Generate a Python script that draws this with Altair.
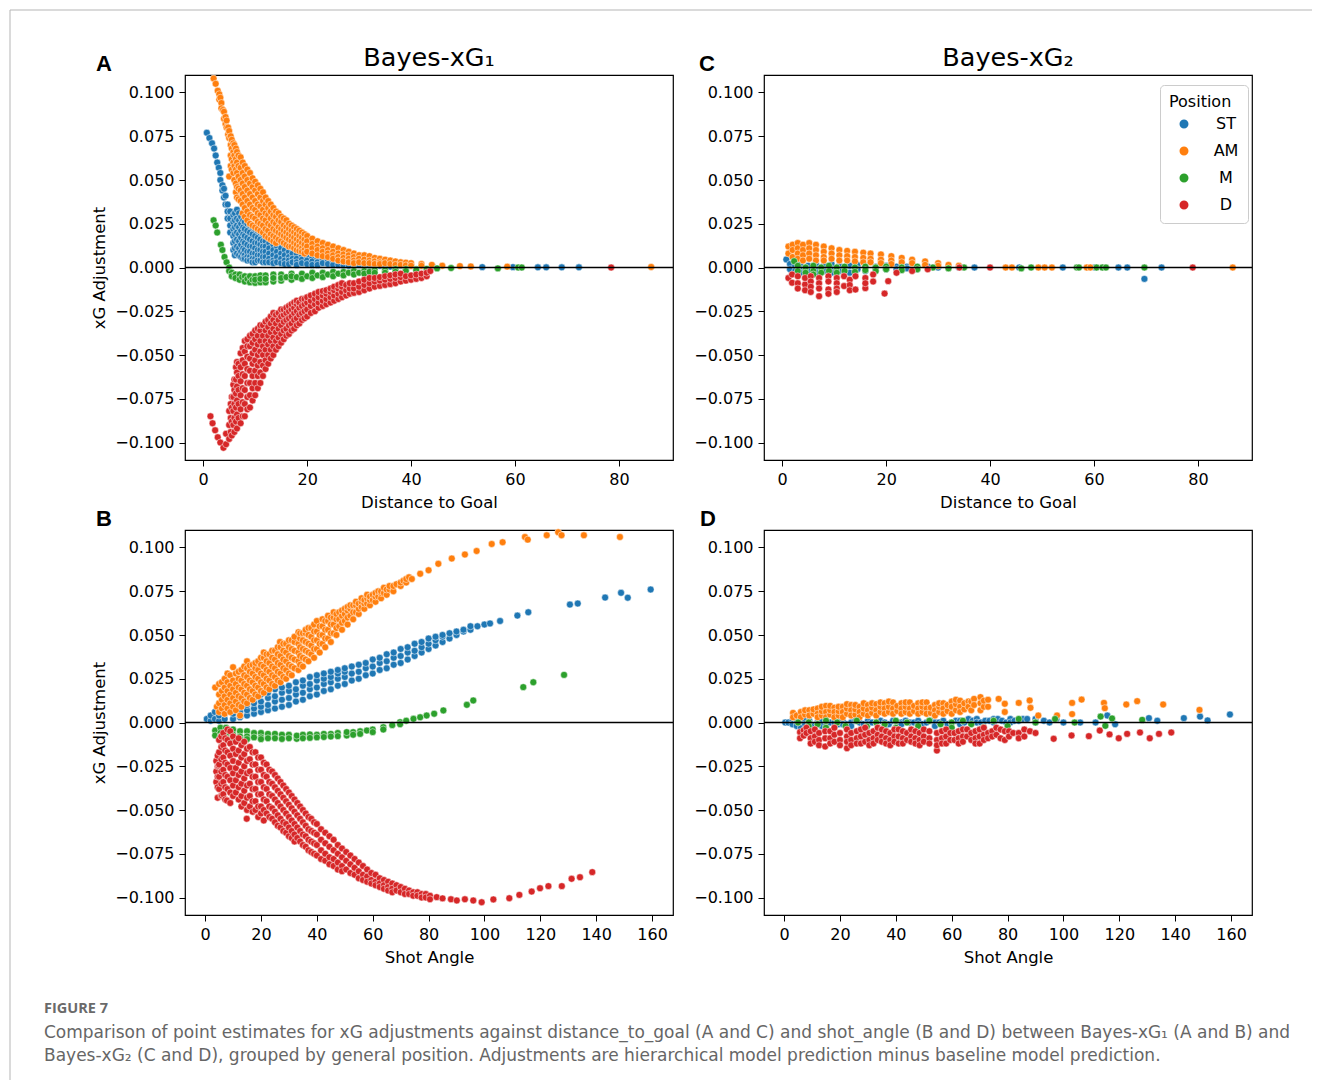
import altair as alt
import pandas as pd

POSITIONS = ["ST", "AM", "M", "D"]
COLORS = ["#1f77b4", "#ff7f0e", "#2ca02c", "#d62728"]
Y_TICKS = [-0.1, -0.075, -0.05, -0.025, 0.0, 0.025, 0.05, 0.075, 0.1]
DIST_TICKS = [0, 20, 40, 60, 80]
ANGLE_TICKS = [0, 20, 40, 60, 80, 100, 120, 140, 160]

# ---------------- Panel A: Bayes-xG1 vs distance_to_goal  (x, [y values])
A_ST = [(0.7, [0.077]), (1.2, [0.074]), (1.7, [0.071]), (2.1, [0.068]), (2.4, [0.064]), (2.7, [0.060]),
        (3.0, [0.057]), (3.3, [0.054, 0.050]), (3.7, [0.047, 0.044]), (4.0, [0.045, 0.040]),
        (4.3, [0.041, 0.036]), (4.7, [0.036, 0.032, 0.028]), (5.2, [0.032, 0.028, 0.024, 0.020]),
        (5.8, [0.030, 0.026, 0.022, 0.018, 0.014, 0.010]),
        (6.1, [0.031, 0.027, 0.023, 0.019, 0.015, 0.011, 0.007]),
        (6.5, [0.033, 0.028, 0.024, 0.020, 0.016, 0.012, 0.008]),
        (6.9, [0.031, 0.027, 0.023, 0.019, 0.015, 0.011, 0.007]),
        (7.3, [0.029, 0.025, 0.021, 0.017, 0.013, 0.009, 0.006]),
        (7.7, [0.027, 0.023, 0.019, 0.015, 0.011, 0.008, 0.005]),
        (8.0, [0.026, 0.022, 0.018, 0.014, 0.010, 0.007, 0.005]),
        (8.5, [0.025, 0.021, 0.017, 0.013, 0.009, 0.006, 0.004]),
        (9.0, [0.024, 0.020, 0.016, 0.012, 0.009, 0.006, 0.004]),
        (9.5, [0.023, 0.019, 0.015, 0.012, 0.008, 0.005, 0.003]),
        (10.0, [0.022, 0.018, 0.014, 0.011, 0.008, 0.005, 0.003]),
        (10.5, [0.021, 0.017, 0.014, 0.010, 0.007, 0.004]),
        (11.0, [0.020, 0.016, 0.013, 0.010, 0.007, 0.004]),
        (11.5, [0.019, 0.015, 0.012, 0.009, 0.006, 0.003]),
        (12.0, [0.018, 0.015, 0.012, 0.009, 0.006, 0.003]),
        (12.7, [0.017, 0.014, 0.011, 0.008, 0.005, 0.003]),
        (13.5, [0.016, 0.013, 0.010, 0.007, 0.004, 0.0025]),
        (14.2, [0.015, 0.012, 0.009, 0.006, 0.003]),
        (15.0, [0.014, 0.011, 0.008, 0.005, 0.0025]), (15.7, [0.013, 0.010, 0.007, 0.004, 0.002]),
        (16.5, [0.012, 0.009, 0.006, 0.004, 0.002]), (17.2, [0.011, 0.008, 0.005, 0.003]),
        (18.0, [0.010, 0.008, 0.005, 0.003, 0.0015]), (19.0, [0.0095, 0.007, 0.0045, 0.0025]),
        (20.0, [0.009, 0.006, 0.004, 0.002]), (21.0, [0.008, 0.0055, 0.0035, 0.0015]),
        (22.0, [0.007, 0.005, 0.003, 0.0015]), (23.0, [0.0065, 0.0045, 0.0025]), (24.0, [0.006, 0.004, 0.002]),
        (25.0, [0.0055, 0.0035, 0.0015]), (26.0, [0.005, 0.003, 0.0015]), (27.0, [0.0045, 0.0025, 0.001]),
        (28.0, [0.004, 0.002, 0.001]), (29.0, [0.0035, 0.002]), (30.0, [0.003, 0.0015]), (31.0, [0.003, 0.0015]),
        (32.0, [0.0025, 0.001]), (33.0, [0.0025, 0.001]), (34.0, [0.002, 0.001]), (35.0, [0.002, 0.001]),
        (36.0, [0.0015, 0.0005]), (37.0, [0.0015]), (38.0, [0.001]), (39.0, [0.001]), (40.0, [0.001]),
        (42.0, [0.0008]), (44.2, [0.0005]), (53.7, [0.0002]), (59.6, [0.0002]), (64.4, [0.0001]),
        (66.0, [0.0001]), (69.0, [0.0001]), (72.3, [0.0001])]
A_AM = [(2.0, [0.108]), (2.4, [0.105]), (2.8, [0.101]), (3.1, [0.099, 0.096]), (3.3, [0.097]),
        (3.5, [0.094, 0.091]), (3.8, [0.090]), (4.0, [0.089, 0.085]), (4.3, [0.086, 0.082]),
        (4.5, [0.084, 0.080]), (4.8, [0.080, 0.076]), (5.0, [0.078, 0.074, 0.052]),
        (5.3, [0.075, 0.070, 0.064, 0.058]), (5.5, [0.073, 0.068, 0.062, 0.056]),
        (5.8, [0.071, 0.066, 0.060, 0.054]), (6.0, [0.070, 0.064, 0.058, 0.050]),
        (6.3, [0.068, 0.062, 0.056, 0.048, 0.043]), (6.5, [0.066, 0.060, 0.054, 0.046, 0.040]),
        (6.8, [0.064, 0.058, 0.052, 0.045, 0.039]), (7.2, [0.063, 0.057, 0.050, 0.044, 0.038]),
        (7.6, [0.060, 0.054, 0.048, 0.042, 0.036, 0.031]),
        (8.0, [0.058, 0.052, 0.046, 0.040, 0.034, 0.029]), (8.5, [0.056, 0.050, 0.044, 0.038, 0.032, 0.027]),
        (9.0, [0.054, 0.048, 0.042, 0.036, 0.030, 0.025]), (9.5, [0.051, 0.046, 0.040, 0.034, 0.029, 0.024]),
        (10.0, [0.049, 0.044, 0.038, 0.033, 0.028, 0.023]), (10.5, [0.047, 0.042, 0.036, 0.031, 0.026, 0.022]),
        (11.0, [0.045, 0.040, 0.035, 0.030, 0.025, 0.021]), (11.5, [0.043, 0.038, 0.033, 0.028, 0.024, 0.020]),
        (12.0, [0.040, 0.036, 0.031, 0.027, 0.022, 0.018]), (12.5, [0.038, 0.034, 0.030, 0.025, 0.021, 0.017]),
        (13.0, [0.036, 0.032, 0.028, 0.024, 0.019, 0.016]), (13.5, [0.034, 0.030, 0.026, 0.022, 0.018, 0.015]),
        (14.0, [0.032, 0.029, 0.025, 0.021, 0.017, 0.014]), (14.5, [0.031, 0.027, 0.023, 0.020, 0.016]),
        (15.0, [0.029, 0.026, 0.022, 0.019, 0.015]), (15.5, [0.028, 0.024, 0.021, 0.018, 0.014]),
        (16.0, [0.027, 0.023, 0.020, 0.017, 0.013]), (16.5, [0.025, 0.022, 0.019, 0.016, 0.012]),
        (17.0, [0.024, 0.021, 0.018, 0.015, 0.012]), (17.5, [0.023, 0.020, 0.017, 0.014, 0.011]),
        (18.0, [0.022, 0.019, 0.016, 0.013, 0.010]), (18.5, [0.021, 0.018, 0.015, 0.012, 0.0095]),
        (19.0, [0.020, 0.017, 0.014, 0.011, 0.009]), (19.5, [0.019, 0.016, 0.013, 0.010, 0.008]),
        (20.0, [0.018, 0.015, 0.012, 0.009]), (21.0, [0.0165, 0.0135, 0.011, 0.008]),
        (22.0, [0.015, 0.012, 0.010, 0.007]), (23.0, [0.014, 0.011, 0.009, 0.0065]),
        (24.0, [0.013, 0.010, 0.008, 0.006]), (25.0, [0.012, 0.009, 0.007, 0.005]),
        (26.0, [0.011, 0.008, 0.006, 0.004]), (27.0, [0.010, 0.0075, 0.0055, 0.0035]),
        (28.0, [0.009, 0.007, 0.005, 0.003]), (29.0, [0.008, 0.006, 0.004, 0.0025]),
        (30.0, [0.007, 0.005, 0.003]), (31.0, [0.007, 0.0045, 0.0025]), (32.0, [0.0065, 0.004, 0.0025]),
        (33.0, [0.0055, 0.0035, 0.002]), (34.0, [0.005, 0.003, 0.002]), (35.0, [0.0045, 0.0025]),
        (36.0, [0.004, 0.002]), (37.0, [0.0035, 0.0015]), (38.0, [0.003, 0.0015]), (39.0, [0.0028, 0.0012]),
        (40.0, [0.0025, 0.001]), (42.0, [0.002, 0.001]), (44.0, [0.0015]), (46.0, [0.001]), (49.4, [0.0008]),
        (51.5, [0.0006]), (58.5, [0.0005]), (86.2, [0.0003])]
A_M = [(2.0, [0.027]), (2.4, [0.024]), (2.7, [0.020]), (3.4, [0.013]), (3.7, [0.010]), (4.1, [0.006]),
       (4.5, [0.003]), (5.0, [0.000, -0.002]), (5.5, [-0.003, -0.005]), (6.2, [-0.004, -0.006]),
       (7.0, [-0.004, -0.007]), (7.5, [-0.0055]), (8.0, [-0.005, -0.008]), (8.5, [-0.0065]),
       (9.0, [-0.005, -0.0085]), (9.5, [-0.007]), (10.0, [-0.005, -0.0088, -0.007]),
       (11.0, [-0.0045, -0.0085, -0.0065]), (12.0, [-0.0045, -0.0085, -0.0065]),
       (13.5, [-0.004, -0.008, -0.006]), (15.0, [-0.004, -0.0075, -0.006]), (16.0, [-0.0055]),
       (17.0, [-0.0035, -0.007, -0.005]), (18.0, [-0.0055]), (19.0, [-0.0035, -0.0065]), (20.0, [-0.005]),
       (21.0, [-0.003, -0.006]), (22.0, [-0.0045]), (23.0, [-0.003, -0.0055]), (24.0, [-0.004]),
       (25.0, [-0.0025, -0.005]), (26.0, [-0.0035]), (27.0, [-0.0025, -0.0045]), (28.0, [-0.003]),
       (29.0, [-0.002, -0.004]), (30.0, [-0.003]), (31.0, [-0.002, -0.0035]), (32.0, [-0.0025]),
       (33.0, [-0.0015, -0.003]), (35.0, [-0.0015, -0.003]), (37.0, [-0.001, -0.0025]), (39.0, [-0.001, -0.002]),
       (41.0, [-0.001, -0.0015]), (43.0, [-0.0008]), (45.0, [-0.0005]), (47.7, [-0.0003]), (56.7, [-0.0005]),
       (60.6, [0.0]), (61.3, [0.0])]
A_D = [(1.4, [-0.085]), (1.8, [-0.089]), (2.3, [-0.093]), (2.8, [-0.097]), (3.3, [-0.100]), (3.9, [-0.103]),
       (4.4, [-0.101, -0.095]), (5.0, [-0.098, -0.090, -0.082]), (5.3, [-0.094, -0.086, -0.078]),
       (5.5, [-0.096, -0.088, -0.080, -0.074]), (5.8, [-0.090, -0.082, -0.074, -0.067]),
       (6.0, [-0.094, -0.086, -0.078, -0.070, -0.064]), (6.3, [-0.088, -0.080, -0.072, -0.064, -0.057]),
       (6.5, [-0.092, -0.084, -0.076, -0.068, -0.060, -0.054]),
       (6.8, [-0.086, -0.078, -0.070, -0.062, -0.055]),
       (7.2, [-0.089, -0.081, -0.073, -0.065, -0.057, -0.049]),
       (7.6, [-0.085, -0.077, -0.069, -0.061, -0.053, -0.046]),
       (8.0, [-0.085, -0.078, -0.070, -0.062, -0.055, -0.048, -0.042]),
       (8.5, [-0.081, -0.074, -0.066, -0.058, -0.051, -0.045, -0.041]),
       (9.0, [-0.080, -0.073, -0.066, -0.059, -0.052, -0.045, -0.039]),
       (9.5, [-0.076, -0.069, -0.062, -0.055, -0.049, -0.043, -0.038]),
       (10.0, [-0.073, -0.066, -0.059, -0.053, -0.047, -0.041, -0.036]),
       (10.5, [-0.069, -0.062, -0.056, -0.050, -0.044, -0.039, -0.035]),
       (11.0, [-0.066, -0.060, -0.054, -0.048, -0.042, -0.036, -0.033]),
       (11.5, [-0.062, -0.056, -0.050, -0.045, -0.039, -0.033]),
       (12.0, [-0.058, -0.053, -0.047, -0.042, -0.036, -0.031]),
       (12.5, [-0.055, -0.050, -0.044, -0.039, -0.034, -0.030]),
       (13.0, [-0.052, -0.047, -0.042, -0.037, -0.032, -0.028]),
       (13.5, [-0.050, -0.045, -0.040, -0.035, -0.030, -0.026]),
       (14.0, [-0.047, -0.042, -0.037, -0.032, -0.027]), (14.5, [-0.045, -0.040, -0.035, -0.030, -0.026]),
       (15.0, [-0.043, -0.038, -0.033, -0.028, -0.024]), (15.5, [-0.041, -0.036, -0.031, -0.027, -0.024]),
       (16.0, [-0.039, -0.035, -0.030, -0.026, -0.023]), (16.5, [-0.038, -0.033, -0.029, -0.025, -0.022]),
       (17.0, [-0.036, -0.032, -0.028, -0.024, -0.021]), (17.5, [-0.035, -0.030, -0.026, -0.023, -0.020]),
       (18.0, [-0.033, -0.029, -0.025, -0.021, -0.019]), (18.5, [-0.032, -0.027, -0.023, -0.020]),
       (19.0, [-0.030, -0.026, -0.022, -0.018]), (19.5, [-0.029, -0.025, -0.021, -0.018]),
       (20.0, [-0.028, -0.024, -0.020, -0.017]), (20.7, [-0.026, -0.022, -0.019, -0.016]),
       (21.5, [-0.025, -0.021, -0.018, -0.015]), (22.2, [-0.023, -0.020, -0.017, -0.014]),
       (23.0, [-0.022, -0.019, -0.016, -0.0135]), (23.7, [-0.021, -0.018, -0.015, -0.013]),
       (24.5, [-0.020, -0.017, -0.014, -0.012]), (25.2, [-0.019, -0.016, -0.013, -0.011]),
       (26.0, [-0.018, -0.015, -0.012, -0.010]), (26.7, [-0.017, -0.014, -0.011, -0.009]),
       (27.5, [-0.016, -0.013, -0.010]), (28.2, [-0.015, -0.012, -0.009]), (29.0, [-0.0145, -0.012, -0.009]),
       (30.0, [-0.014, -0.011, -0.008]), (31.0, [-0.013, -0.010, -0.007]), (32.0, [-0.012, -0.009, -0.006]),
       (33.0, [-0.011, -0.008, -0.006]), (34.0, [-0.0105, -0.0075, -0.0055]), (35.0, [-0.010, -0.007, -0.005]),
       (36.0, [-0.0095, -0.0065, -0.0045]), (37.0, [-0.009, -0.006, -0.004]), (38.0, [-0.008, -0.0055, -0.0035]),
       (39.0, [-0.0075, -0.005]), (40.0, [-0.007, -0.0045]), (41.0, [-0.0065, -0.004]), (42.0, [-0.006, -0.0035]),
       (43.0, [-0.005, -0.003]), (43.7, [-0.002]), (78.5, [0.0])]

# ---------------- Panel B: Bayes-xG1 vs shot_angle
B_ST = [(0.6, [0.002]), (2.0, [0.001, 0.004]), (3.5, [0.002, 0.006]), (5.0, [0.001, 0.004, 0.007]),
        (7.0, [0.002, 0.005, 0.008]), (10.0, [0.002, 0.005, 0.007, 0.010]), (12.5, [0.003, 0.006, 0.009, 0.012]),
        (15.0, [0.004, 0.007, 0.010, 0.013]), (17.5, [0.005, 0.008, 0.011, 0.014]),
        (20.0, [0.006, 0.009, 0.012, 0.016]), (22.5, [0.007, 0.010, 0.014, 0.017]),
        (25.0, [0.008, 0.012, 0.015, 0.019]), (27.5, [0.009, 0.013, 0.017, 0.020]),
        (30.0, [0.010, 0.014, 0.018, 0.021]), (32.5, [0.012, 0.016, 0.019, 0.023]),
        (35.0, [0.013, 0.017, 0.021, 0.024]), (37.5, [0.015, 0.019, 0.022, 0.026]),
        (40.0, [0.016, 0.020, 0.024, 0.027]), (42.5, [0.018, 0.022, 0.025, 0.028]),
        (45.0, [0.019, 0.023, 0.026, 0.029]), (47.5, [0.021, 0.025, 0.028, 0.030]),
        (50.0, [0.022, 0.026, 0.029, 0.031]), (52.5, [0.024, 0.028, 0.032]), (55.0, [0.025, 0.029, 0.033]),
        (57.5, [0.027, 0.031, 0.034]), (60.0, [0.028, 0.032, 0.036]), (62.5, [0.030, 0.034, 0.037]),
        (65.0, [0.031, 0.035, 0.039]), (67.5, [0.033, 0.037, 0.040]), (70.0, [0.034, 0.038, 0.042]),
        (72.5, [0.036, 0.040, 0.043]), (75.0, [0.038, 0.041, 0.045]), (77.5, [0.040, 0.043, 0.046]),
        (80.0, [0.042, 0.045, 0.048]), (82.5, [0.044, 0.047, 0.049]), (85.0, [0.046, 0.049, 0.050]),
        (87.5, [0.048, 0.051]), (90.0, [0.050, 0.052]), (92.5, [0.052, 0.053]), (95.0, [0.053, 0.055]),
        (97.5, [0.055]), (100.0, [0.056]), (102.0, [0.0566]), (105.6, [0.058]), (111.8, [0.0611]),
        (115.7, [0.063]), (130.6, [0.0674]), (133.4, [0.068]), (143.2, [0.0714]), (148.9, [0.0741]),
        (151.3, [0.0713]), (159.5, [0.076])]
B_AM = [(3.6, [0.020]), (4.2, [0.009]), (5.0, [0.006, 0.011, 0.016, 0.022]), (6.0, [0.008, 0.013, 0.018, 0.023]),
        (7.0, [0.005, 0.010, 0.015, 0.020, 0.025]), (8.0, [0.008, 0.013, 0.018, 0.023, 0.028]),
        (9.0, [0.006, 0.011, 0.016, 0.021, 0.027]), (10.0, [0.009, 0.014, 0.019, 0.024, 0.0316]),
        (11.0, [0.007, 0.012, 0.017, 0.022, 0.028]), (12.0, [0.010, 0.015, 0.020, 0.025, 0.029]),
        (12.5, [0.004]), (13.0, [0.009, 0.014, 0.019, 0.024, 0.030]), (14.0, [0.012, 0.017, 0.022, 0.027, 0.032]),
        (15.0, [0.011, 0.016, 0.021, 0.026, 0.031, 0.035]), (16.0, [0.014, 0.019, 0.024, 0.029, 0.0326]),
        (17.0, [0.013, 0.018, 0.023, 0.028, 0.033]), (18.0, [0.016, 0.021, 0.026, 0.031, 0.034]),
        (19.0, [0.015, 0.020, 0.025, 0.030, 0.035]), (20.0, [0.018, 0.023, 0.028, 0.033, 0.037]),
        (21.0, [0.017, 0.022, 0.027, 0.032, 0.037, 0.040]), (22.0, [0.020, 0.025, 0.030, 0.035, 0.039]),
        (23.0, [0.019, 0.024, 0.029, 0.034, 0.039]), (24.0, [0.022, 0.027, 0.032, 0.037, 0.041]),
        (25.0, [0.021, 0.026, 0.031, 0.036, 0.041]), (26.0, [0.024, 0.029, 0.034, 0.039, 0.043]),
        (26.8, [0.046]), (27.0, [0.023, 0.028, 0.033, 0.038, 0.043]), (28.0, [0.026, 0.031, 0.036, 0.041, 0.045]),
        (29.0, [0.025, 0.030, 0.035, 0.040, 0.045]), (30.0, [0.028, 0.033, 0.038, 0.043, 0.047]),
        (31.0, [0.027, 0.032, 0.037, 0.042, 0.047]), (32.0, [0.031, 0.036, 0.041, 0.046, 0.049]),
        (33.4, [0.0516, 0.030, 0.035, 0.040, 0.045]), (34.0, [0.033, 0.038, 0.043, 0.048, 0.051]),
        (35.0, [0.032, 0.037, 0.042, 0.047, 0.051]), (36.0, [0.036, 0.041, 0.046, 0.051, 0.053]),
        (37.0, [0.035, 0.040, 0.045, 0.050, 0.054]), (38.0, [0.039, 0.044, 0.049, 0.054]),
        (39.0, [0.037, 0.042, 0.047, 0.052, 0.056]), (40.0, [0.042, 0.047, 0.052, 0.058]),
        (41.0, [0.040, 0.045, 0.050, 0.055]), (42.0, [0.045, 0.050, 0.055, 0.059]),
        (43.0, [0.043, 0.048, 0.053, 0.058]), (44.0, [0.048, 0.053, 0.058, 0.061]),
        (45.0, [0.046, 0.051, 0.056, 0.060]), (46.0, [0.051, 0.056, 0.060, 0.063]),
        (47.0, [0.050, 0.054, 0.059, 0.062]), (48.0, [0.055, 0.059, 0.063]), (49.0, [0.053, 0.057, 0.061, 0.064]),
        (50.0, [0.058, 0.062, 0.065]), (51.0, [0.056, 0.060, 0.064, 0.066]), (52.0, [0.061, 0.065, 0.067]),
        (53.0, [0.059, 0.063, 0.067]), (54.0, [0.063, 0.067, 0.069]), (55.0, [0.062, 0.065, 0.068]),
        (56.0, [0.066, 0.069, 0.071]), (57.0, [0.065, 0.068, 0.070]), (58.0, [0.068, 0.071, 0.073]),
        (59.0, [0.067, 0.070, 0.072]), (60.0, [0.070, 0.073]), (61.0, [0.069, 0.072, 0.074]),
        (62.0, [0.072, 0.075]), (63.0, [0.071, 0.074, 0.075]), (64.0, [0.074, 0.077]), (65.0, [0.073, 0.076]),
        (66.0, [0.076, 0.078]), (67.4, [0.075, 0.078]), (68.5, [0.079]), (70.0, [0.078, 0.080]), (71.0, [0.081]),
        (72.0, [0.080, 0.082]), (73.0, [0.083]), (74.0, [0.082]), (77.0, [0.085]), (80.0, [0.087]),
        (83.5, [0.0907]), (88.3, [0.0937]), (93.0, [0.096]), (97.2, [0.098]), (102.6, [0.102]), (106.5, [0.103]),
        (114.5, [0.106]), (115.5, [0.1045]), (122.3, [0.107]), (126.4, [0.1087]), (127.6, [0.107]),
        (135.6, [0.107]), (148.5, [0.106])]
B_M = [(3.6, [-0.0046, -0.0074]), (5.5, [-0.003, -0.006, -0.008]), (7.5, [-0.003, -0.0074, -0.009]),
       (10.0, [-0.004, -0.007, -0.009]), (12.5, [-0.005, -0.008, -0.0095]), (15.0, [-0.005, -0.008, -0.0095]),
       (17.5, [-0.006, -0.0085]), (20.0, [-0.006, -0.0085, -0.0095]), (22.5, [-0.0065, -0.009]),
       (25.0, [-0.0065, -0.009]), (27.5, [-0.007, -0.0094]), (30.0, [-0.007, -0.009]),
       (32.8, [-0.0093, -0.0075]), (35.0, [-0.007, -0.009]), (37.5, [-0.0068, -0.0088]),
       (40.0, [-0.007, -0.0085]), (42.5, [-0.0065, -0.0083]), (45.0, [-0.0065, -0.008]),
       (47.5, [-0.006, -0.0078]), (50.7, [-0.0074, -0.0055]), (53.0, [-0.0055, -0.007]),
       (55.5, [-0.005, -0.0065]), (57.9, [-0.0046]), (60.0, [-0.004, -0.0055]), (63.8, [-0.0027, -0.004]),
       (67.0, [-0.0015]), (69.8, [0.0002, -0.001]), (72.0, [0.001]), (74.6, [0.0021]), (77.0, [0.003]),
       (79.3, [0.004]), (82.0, [0.005]), (85.3, [0.0069]), (93.7, [0.0101]), (96.0, [0.0126]),
       (113.9, [0.0202]), (117.5, [0.023]), (128.5, [0.0272])]
B_D = [(4.0, [-0.022, -0.028, -0.034]), (4.5, [-0.019, -0.025, -0.031, -0.037, -0.043]), (4.8, [-0.0246]),
       (5.0, [-0.010, -0.017, -0.024, -0.031, -0.038]), (5.8, [-0.008, -0.014, -0.021, -0.028, -0.035, -0.042]),
       (6.0, [-0.0417]), (6.5, [-0.006, -0.013, -0.020, -0.027, -0.034, -0.041]),
       (7.2, [-0.009, -0.016, -0.023, -0.030, -0.037, -0.044]), (7.8, [-0.0446]),
       (8.0, [-0.004, -0.010, -0.017, -0.024, -0.031, -0.038]),
       (9.0, [-0.005, -0.012, -0.019, -0.026, -0.033, -0.040, -0.046]),
       (10.0, [-0.008, -0.015, -0.022, -0.029, -0.036, -0.042]), (11.0, [-0.011, -0.018, -0.026, -0.033, -0.040]),
       (12.0, [-0.009, -0.016, -0.023, -0.030, -0.037, -0.044]),
       (13.0, [-0.013, -0.020, -0.028, -0.035, -0.042, -0.048]),
       (14.0, [-0.011, -0.018, -0.025, -0.032, -0.039, -0.046]), (14.9, [-0.055]),
       (15.0, [-0.015, -0.022, -0.029, -0.036, -0.043, -0.050]),
       (16.0, [-0.014, -0.021, -0.028, -0.035, -0.042, -0.048]),
       (17.0, [-0.017, -0.024, -0.031, -0.038, -0.045, -0.051]),
       (18.0, [-0.017, -0.024, -0.031, -0.038, -0.045, -0.050]),
       (19.0, [-0.020, -0.027, -0.034, -0.041, -0.048, -0.054]),
       (20.0, [-0.020, -0.027, -0.034, -0.041, -0.048, -0.052]),
       (21.0, [-0.023, -0.030, -0.037, -0.044, -0.050, -0.056]),
       (22.0, [-0.024, -0.031, -0.038, -0.045, -0.052]), (23.0, [-0.027, -0.034, -0.041, -0.048, -0.054]),
       (24.0, [-0.028, -0.035, -0.042, -0.049, -0.055]), (25.0, [-0.030, -0.037, -0.044, -0.051, -0.057]),
       (26.0, [-0.032, -0.039, -0.046, -0.053, -0.059]), (27.0, [-0.034, -0.041, -0.048, -0.055, -0.060]),
       (28.0, [-0.036, -0.043, -0.050, -0.057, -0.062]), (29.0, [-0.038, -0.045, -0.052, -0.058, -0.063]),
       (30.0, [-0.040, -0.047, -0.054, -0.060, -0.065]), (31.0, [-0.042, -0.049, -0.056, -0.062, -0.066]),
       (32.0, [-0.044, -0.051, -0.058, -0.064, -0.068]), (33.0, [-0.046, -0.053, -0.060, -0.066]),
       (34.0, [-0.048, -0.055, -0.062, -0.068]), (35.0, [-0.050, -0.057, -0.064, -0.070]),
       (36.0, [-0.052, -0.059, -0.065, -0.071]), (37.0, [-0.054, -0.061, -0.067, -0.073]),
       (38.0, [-0.055, -0.062, -0.068, -0.074]), (39.0, [-0.057, -0.063, -0.069, -0.075]),
       (40.0, [-0.058, -0.064, -0.070, -0.076]), (41.5, [-0.061, -0.067, -0.073, -0.078]),
       (43.0, [-0.063, -0.069, -0.075, -0.079]), (44.5, [-0.065, -0.071, -0.077, -0.081]),
       (46.0, [-0.067, -0.073, -0.078, -0.082]), (47.5, [-0.070, -0.075, -0.080, -0.084]),
       (49.0, [-0.072, -0.077, -0.082, -0.085]), (50.5, [-0.074, -0.079, -0.084]),
       (52.0, [-0.076, -0.081, -0.086]), (53.5, [-0.078, -0.083, -0.087]), (55.0, [-0.080, -0.085, -0.089]),
       (56.5, [-0.082, -0.087, -0.090]), (58.0, [-0.084, -0.088, -0.091]), (59.5, [-0.086, -0.090, -0.092]),
       (61.0, [-0.087, -0.091, -0.093]), (62.5, [-0.089, -0.092, -0.094]), (64.0, [-0.090, -0.093, -0.095]),
       (65.5, [-0.091, -0.094, -0.096]), (67.0, [-0.092, -0.095, -0.097]), (68.5, [-0.093, -0.096]),
       (70.0, [-0.094, -0.097]), (71.5, [-0.095, -0.098]), (73.0, [-0.096, -0.098]), (74.5, [-0.097, -0.099]),
       (76.0, [-0.097, -0.099]), (77.5, [-0.098, -0.100]), (79.0, [-0.098, -0.100]), (80.5, [-0.099, -0.101]),
       (82.9, [-0.0998]), (85.0, [-0.1005]), (88.0, [-0.101]), (90.1, [-0.1017]), (93.0, [-0.101]),
       (96.0, [-0.1017]), (99.0, [-0.1027]), (103.2, [-0.1011]), (108.9, [-0.1004]), (112.5, [-0.0985]),
       (116.9, [-0.0966]), (119.9, [-0.0947]), (122.9, [-0.0935]), (127.7, [-0.0935]), (131.2, [-0.0893]),
       (134.2, [-0.0884]), (138.6, [-0.0855])]

# ---------------- Panel C: Bayes-xG2 vs distance_to_goal
C_ST = [(0.8, [0.0046]), (1.5, [0.002, -0.001]), (2.5, [0.001, -0.002]), (3.5, [0.002, -0.001, -0.003]),
        (5.0, [0.001, -0.002]), (6.5, [0.002, -0.001, -0.003]), (8.0, [0.001, -0.002]),
        (9.5, [0.002, -0.001, -0.003]), (11.0, [0.001, -0.002]), (13.0, [0.001, -0.003]),
        (14.5, [0.0015, -0.001]), (16.0, [0.001, -0.002]), (18.0, [0.0005, -0.0015]), (20.0, [0.001, -0.001]),
        (22.0, [0.0005, -0.001]), (24.0, [0.0005, -0.0005]), (26.0, [0.0, -0.001]), (28.0, [0.0005]),
        (30.0, [0.0]), (32.0, [0.0]), (34.0, [0.0]), (37.0, [0.0]), (45.6, [0.0]), (54.0, [0.0]),
        (60.2, [0.0]), (64.7, [0.0]), (66.4, [0.0]), (69.7, [-0.0065]), (73.0, [0.0])]
C_AM = [(1.2, [0.012, 0.008]), (2.0, [0.013, 0.010, 0.006]), (3.0, [0.014, 0.011, 0.008, 0.005]),
        (4.0, [0.013, 0.010, 0.007, 0.004]), (5.2, [0.014, 0.011, 0.008, 0.005]),
        (6.5, [0.013, 0.010, 0.007, 0.004]), (8.0, [0.012, 0.009, 0.006, 0.004]), (9.5, [0.011, 0.008, 0.005]),
        (11.0, [0.010, 0.007, 0.004]), (12.5, [0.0095, 0.0065, 0.004]), (14.0, [0.009, 0.006, 0.0035]),
        (15.6, [0.0085, 0.0055, 0.003]), (17.0, [0.008, 0.005, 0.003]), (19.0, [0.0075, 0.0045, 0.0025]),
        (21.0, [0.0065, 0.004, 0.002]), (23.0, [0.0055, 0.003]), (25.0, [0.0045, 0.0025]),
        (27.5, [0.0035, 0.0015]), (30.0, [0.0025, 0.001]), (32.0, [0.0015]), (34.0, [0.001]), (43.0, [0.0]),
        (44.2, [0.0]), (49.3, [0.0]), (50.5, [0.0]), (51.9, [0.0]), (58.6, [0.0]), (59.3, [0.0]), (86.7, [0.0])]
C_M = [(2.3, [0.0036]), (3.0, [0.001, -0.002]), (4.5, [0.0, -0.003]), (6.0, [0.001, -0.002, -0.004]),
       (7.5, [0.0, -0.003]), (9.0, [0.001, -0.002]), (10.5, [0.0, -0.003]), (12.0, [0.0005, -0.002]),
       (14.0, [0.0, -0.0025]), (16.0, [0.0005, -0.0015]), (18.0, [0.0, -0.002]), (20.0, [0.0005, -0.001]),
       (23.0, [0.0, -0.0015]), (26.0, [0.0005, -0.001]), (29.0, [0.0]), (32.0, [-0.0005]), (35.0, [0.0]),
       (46.0, [-0.0005]), (47.9, [0.0]), (56.7, [0.0]), (57.1, [0.0]), (60.5, [0.0]), (61.6, [0.0]),
       (62.3, [0.0]), (69.7, [0.0])]
C_D = [(1.2, [-0.006]), (1.9, [-0.0087, -0.004]), (3.0, [-0.005, -0.009, -0.012]),
       (4.4, [-0.0097, -0.006, -0.013]), (5.5, [-0.005, -0.008, -0.011, -0.014]),
       (7.1, [-0.0164, -0.006, -0.009, -0.012]), (8.9, [-0.0125, -0.005, -0.008, -0.015]),
       (10.5, [-0.006, -0.009, -0.012, -0.014]), (11.9, [-0.0106, -0.005]), (13.0, [-0.007, -0.010, -0.013]),
       (14.1, [-0.0126, -0.005]), (16.0, [-0.0118, -0.006, -0.009]), (17.5, [-0.004, -0.008]),
       (19.7, [-0.0149]), (20.4, [-0.0078]), (22.0, [-0.003]), (25.0, [-0.002]), (28.0, [-0.001]),
       (34.1, [0.0]), (40.0, [0.0]), (79.0, [0.0])]

# ---------------- Panel D: Bayes-xG2 vs shot_angle
D_ST = [(0.4, [0.0]), (1.5, [0.0]), (3.0, [0.001, -0.001]), (4.5, [0.0, -0.002]), (6.0, [0.0, -0.003]),
        (7.5, [0.001, -0.001]), (9.0, [0.001, -0.002]), (10.5, [-0.002]), (12.0, [0.0, -0.001]),
        (13.5, [0.001, -0.002]), (15.0, [0.001, -0.002]), (16.5, [0.0]), (18.0, [0.0]), (19.5, [0.001, -0.001]),
        (21.0, [0.001, -0.001]), (22.5, [-0.001]), (24.0, [0.0, -0.002]), (25.5, [0.001]), (27.0, [0.0]),
        (28.5, [-0.001]), (30.0, [0.001, -0.001]), (31.5, [0.0]), (33.0, [0.0]), (34.5, [0.001]),
        (36.0, [0.0, -0.002]), (37.5, [-0.001]), (39.0, [0.001]), (40.5, [0.0]), (42.0, [0.0, -0.001]),
        (43.5, [0.001]), (45.0, [0.0]), (46.5, [0.0]), (48.0, [0.001, -0.001]), (49.5, [-0.001]), (51.0, [0.0]),
        (52.5, [0.001]), (54.0, [0.0, -0.002]), (55.5, [0.0]), (57.0, [0.001]), (58.5, [-0.001]), (60.0, [0.0]),
        (61.5, [0.001]), (63.0, [0.001, -0.001]), (64.5, [0.0]), (66.0, [0.002]), (67.5, [0.001]),
        (69.0, [0.002, 0.0]), (70.5, [0.0]), (72.0, [0.001]), (73.5, [0.001]), (75.0, [0.002, 0.0]),
        (76.5, [0.002]), (78.0, [0.001]), (79.5, [0.0]), (81.0, [0.002, 0.0]), (82.5, [0.001]), (84.0, [0.001]),
        (85.5, [0.002]), (87.0, [0.002]), (90.0, [0.002, 0.0]), (93.0, [0.001]), (95.0, [0.0]), (97.5, [0.002]),
        (100.0, [0.0]), (106.0, [0.0]), (111.5, [0.0]), (115.7, [0.004]), (118.5, [-0.001]), (130.6, [0.0025]),
        (133.6, [0.001]), (143.1, [0.0025]), (148.9, [0.0034]), (151.6, [0.0012]), (159.6, [0.0046])]
D_AM = [(3.2, [0.0055, 0.003]), (4.5, [0.004]), (6.0, [0.006, 0.003]), (7.5, [0.0045, 0.007]),
        (9.0, [0.007, 0.004]), (10.5, [0.005, 0.0075]), (12.0, [0.008, 0.005, 0.003]),
        (13.5, [0.004, 0.0065, 0.009]), (15.0, [0.0095, 0.006, 0.003]), (16.5, [0.0045, 0.007, 0.0095]),
        (18.0, [0.0085, 0.006, 0.003]), (19.5, [0.004, 0.0065, 0.009]), (21.0, [0.009, 0.006, 0.003]),
        (22.5, [0.005, 0.008, 0.0105]), (24.0, [0.010, 0.007, 0.004]), (25.5, [0.0045, 0.0075, 0.010]),
        (27.0, [0.009, 0.006, 0.003]), (28.5, [0.005, 0.008, 0.011]), (30.0, [0.010, 0.007, 0.004]),
        (31.5, [0.0055, 0.0085, 0.011]), (33.0, [0.0105, 0.007, 0.004]), (34.5, [0.006, 0.009, 0.0115]),
        (36.0, [0.011, 0.008, 0.005]), (37.5, [0.006, 0.009, 0.012]), (39.0, [0.0115, 0.008, 0.005]),
        (40.5, [0.0065, 0.0095]), (42.0, [0.011, 0.008, 0.005]), (43.5, [0.006, 0.009, 0.0115]),
        (45.0, [0.0115, 0.008, 0.005]), (46.5, [0.0065, 0.0095]), (48.0, [0.011, 0.008, 0.005]),
        (49.5, [0.006, 0.009, 0.0115]), (51.0, [0.0115, 0.008, 0.005]), (52.5, [0.0055, 0.0085]),
        (54.0, [0.010, 0.007, 0.004]), (55.5, [0.006, 0.009, 0.011]), (57.0, [0.011, 0.008, 0.005]),
        (58.5, [0.0065, 0.010]), (60.0, [0.012, 0.009, 0.005]), (61.5, [0.007, 0.0105, 0.013]),
        (63.0, [0.0125, 0.009, 0.006]), (64.5, [0.0075, 0.011]), (66.0, [0.012, 0.009]), (67.0, [0.007, 0.012]),
        (68.0, [0.0135, 0.010]), (70.3, [0.0145, 0.011, 0.007]), (71.5, [0.009, 0.0125]), (73.0, [0.013, 0.009]),
        (76.8, [0.0135]), (79.0, [0.0107, 0.006]), (84.0, [0.0112]), (87.9, [0.0126]), (88.2, [0.0084]),
        (91.0, [0.004]), (97.7, [0.004]), (103.1, [0.0112, 0.0048]), (106.5, [0.0131]), (114.5, [0.0112]),
        (114.8, [0.0082]), (122.5, [0.0103]), (126.4, [0.0122]), (135.7, [0.0103]), (148.7, [0.0072])]
D_M = [(5.0, [0.0]), (8.8, [0.0, -0.002]), (12.0, [-0.001]), (15.0, [0.001, -0.003]), (19.0, [0.0]),
       (22.0, [-0.002]), (26.0, [0.001]), (29.6, [-0.0023]), (33.0, [0.0]), (36.0, [-0.001]),
       (40.0, [0.001, -0.003]), (44.0, [0.0]), (48.0, [-0.002]), (52.0, [0.001]), (56.0, [-0.001]),
       (60.0, [0.0, -0.003]), (64.0, [0.001]), (67.0, [-0.001]), (71.4, [-0.0027]), (75.0, [0.001]),
       (80.0, [-0.002]), (84.0, [0.002]), (90.0, [0.0]), (97.0, [0.002]), (104.0, [0.0]), (113.3, [0.0034]),
       (115.0, [-0.0019]), (117.4, [0.0023]), (128.2, [0.0015])]
D_D = [(5.7, [-0.0055, -0.009]), (7.0, [-0.0045, -0.0075]), (8.0, [-0.003, -0.006]),
       (9.5, [-0.005, -0.009, -0.012]), (11.0, [-0.004, -0.008, -0.011]), (12.5, [-0.006, -0.010, -0.013]),
       (14.7, [-0.0137, -0.005, -0.009]), (16.5, [-0.005, -0.009, -0.012]), (18.0, [-0.003, -0.007, -0.011]),
       (20.0, [-0.006, -0.010, -0.013]), (22.5, [-0.0147, -0.004, -0.008, -0.011]),
       (24.0, [-0.006, -0.010, -0.013]), (26.0, [-0.005, -0.009, -0.012]), (27.5, [-0.004, -0.008, -0.012]),
       (29.0, [-0.003, -0.007, -0.011]), (30.5, [-0.006, -0.010, -0.013]), (32.0, [-0.005, -0.009, -0.012]),
       (33.5, [-0.003, -0.007, -0.010]), (35.0, [-0.004, -0.008, -0.011]), (36.5, [-0.005, -0.009, -0.012]),
       (38.0, [-0.006, -0.010, -0.013]), (39.5, [-0.004, -0.008, -0.011]), (41.0, [-0.004, -0.008, -0.012]),
       (42.5, [-0.005, -0.009, -0.012]), (44.0, [-0.006, -0.010]), (45.5, [-0.004, -0.008, -0.011]),
       (47.0, [-0.005, -0.009, -0.012]), (48.5, [-0.006, -0.010, -0.013]), (50.0, [-0.004, -0.008, -0.011]),
       (52.0, [-0.005, -0.009, -0.012]), (54.7, [-0.016, -0.006, -0.010, -0.013]),
       (56.5, [-0.005, -0.009, -0.012]), (58.0, [-0.004, -0.008, -0.012]), (59.5, [-0.006, -0.010]),
       (61.0, [-0.006, -0.010]), (62.5, [-0.005, -0.009, -0.012]), (64.0, [-0.004, -0.008, -0.011]),
       (65.5, [-0.004, -0.008]), (67.0, [-0.006, -0.010]), (68.5, [-0.005, -0.009, -0.012]),
       (70.0, [-0.004, -0.008, -0.012]), (71.5, [-0.003, -0.007, -0.010]), (73.0, [-0.006, -0.009]),
       (74.5, [-0.005, -0.008]), (76.0, [-0.003, -0.007]), (77.5, [-0.004, -0.009]), (79.0, [-0.005, -0.010]),
       (80.5, [-0.005, -0.008]), (82.0, [-0.006]), (84.0, [-0.006, -0.009]), (86.0, [-0.004, -0.008]),
       (88.0, [-0.005]), (90.0, [-0.006]), (96.5, [-0.0093]), (102.9, [-0.0074]), (109.1, [-0.0078]),
       (113.0, [-0.0046]), (116.5, [-0.0068]), (119.8, [-0.009]), (122.8, [-0.0065]), (127.4, [-0.0057]),
       (130.9, [-0.009]), (134.2, [-0.0065]), (138.6, [-0.0057])]

CAPTION_HEAD = "FIGURE 7"
CAPTION_1 = ("Comparison of point estimates for xG adjustments against distance_to_goal (A and C) and "
             "shot_angle (B and D) between Bayes-xG\u2081 (A and B) and")
CAPTION_2 = ("Bayes-xG\u2082 (C and D), grouped by general position. Adjustments are hierarchical model "
             "prediction minus baseline model prediction.")


def frame_rows(series):
    rows = []
    for pos, cols in zip(POSITIONS, series):
        for x, ys in cols:
            for y in ys:
                rows.append({"x": x, "y": y, "pos": pos})
    return pd.DataFrame(rows)


ONE = pd.DataFrame({"k": [0]})
FONT = "DejaVu Sans"
W, H = 488, 385


def text_at(txt, dx, dy, **kw):
    return alt.Chart(ONE).mark_text(text=txt, baseline="alphabetic", **kw).encode(
        x=alt.value(dx), y=alt.value(dy))


def panel(series, xdom, xticks, xtitle, ytitle, title, letter, letter_dx, legend, extras=()):
    df = frame_rows(series)
    x_axis = alt.Axis(values=xticks, format="d", title=xtitle)
    if ytitle:
        y_axis = alt.Axis(values=Y_TICKS, format=".3f", title=ytitle)
    else:
        y_axis = alt.Axis(values=Y_TICKS, format=".3f", title=None)
    color = alt.Color("pos:N", scale=alt.Scale(domain=POSITIONS, range=COLORS),
                      sort=POSITIONS, legend=legend)
    pts = alt.Chart(df).mark_circle(size=48, opacity=1, stroke="white", strokeWidth=0.5).encode(
        x=alt.X("x:Q", scale=alt.Scale(domain=xdom, nice=False, zero=False), axis=x_axis),
        y=alt.Y("y:Q", scale=alt.Scale(domain=[-0.110, 0.110], nice=False, zero=False), axis=y_axis),
        color=color,
    )
    zero = alt.Chart(ONE).mark_rule(color="black", strokeWidth=1.5).encode(y=alt.datum(0))
    lab = text_at(letter, letter_dx, -4, font="Liberation Sans", fontSize=22, fontWeight="bold",
                  align="center", color="black")
    layers = [pts, zero, lab]
    if title:
        layers.append(text_at(title, W / 2, -9, font=FONT, fontSize=25.5, align="center", color="black"))
    layers += list(extras)
    return alt.layer(*layers).properties(width=W, height=H)


# decorative frame and caption (annotation layers)
frame_h = alt.Chart(ONE).mark_rule(color="#b5b5b5", strokeWidth=1).encode(
    x=alt.value(-175), x2=alt.value(1127), y=alt.value(-65))
frame_v = alt.Chart(ONE).mark_rule(color="#b5b5b5", strokeWidth=1).encode(
    x=alt.value(-175), y=alt.value(-65), y2=alt.value(1005))

cap_head = text_at(CAPTION_HEAD, -141, 483, font="Open Sans", fontSize=14.5, fontWeight="bold",
                   color="#6a6a6a", align="left")
cap_1 = text_at(CAPTION_1, -141, 508, font=FONT, fontSize=17, color="#666666", align="left")
cap_2 = text_at(CAPTION_2, -141, 531, font=FONT, fontSize=17, color="#666666", align="left")

legend_c = alt.Legend(title="Position", orient="none", legendX=396, legendY=10,
                      titleFont=FONT, titleFontSize=16, titleFontWeight="normal", titleColor="black",
                      labelFont=FONT, labelFontSize=16, labelColor="black", symbolSize=110,
                      symbolType="circle", strokeColor="#cccccc", fillColor="white", padding=9,
                      cornerRadius=4, rowPadding=9, symbolOffset=7, labelOffset=34, labelAlign="center",
                      titlePadding=6)

pA = panel([A_ST, A_AM, A_M, A_D], [-3.5, 90.4], DIST_TICKS, "Distance to Goal", "xG Adjustment",
           "Bayes-xG\u2081", "A", -81, None, extras=(frame_h, frame_v))
pC = panel([C_ST, C_AM, C_M, C_D], [-3.5, 90.4], DIST_TICKS, "Distance to Goal", None,
           "Bayes-xG\u2082", "C", -57, legend_c)
pB = panel([B_ST, B_AM, B_M, B_D], [-7.2, 167.5], ANGLE_TICKS, "Shot Angle", "xG Adjustment",
           None, "B", -81, None, extras=(cap_head, cap_1, cap_2))
pD = panel([D_ST, D_AM, D_M, D_D], [-7.2, 167.5], ANGLE_TICKS, "Shot Angle", None,
           None, "D", -56, None)

chart = alt.concat(pA, pC, pB, pD, columns=2, spacing={"row": 70, "column": 91}, bounds="flush",
                   padding={"left": 8, "top": 8, "right": 0, "bottom": 0},
                   background="white",
                   autosize=alt.AutoSizeParams(type="pad")).resolve_legend(color="independent").configure_view(
    stroke="black", strokeWidth=1.2
).configure_axis(
    domain=False, grid=False, tickColor="black", tickSize=6, tickWidth=1,
    labelFont=FONT, labelFontSize=16, labelColor="black", labelPadding=5,
    titleFont=FONT, titleFontSize=16.5, titleFontWeight="normal", titleColor="black", titlePadding=7
)

chart.save("out.html", embed_options={"renderer": "svg", "actions": False})
